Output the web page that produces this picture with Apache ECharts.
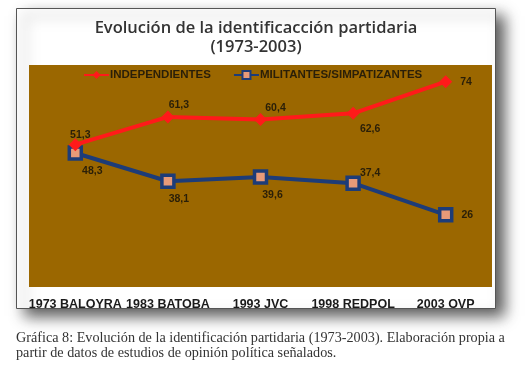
<!DOCTYPE html>
<html>
<head>
<meta charset="utf-8">
<script src="https://cdn.jsdelivr.net/npm/echarts@6/dist/echarts.min.js"></script>
<style>
  html, body { margin: 0; padding: 0; background: #fff; }
  #chart { width: 525px; height: 368px; }
</style>
</head>
<body>
<div id="chart"></div>
<script>
// categories (x axis)
const categories = ['1973 BALOYRA', '1983 BATOBA', '1993 JVC', '1998 REDPOL', '2003 OVP']

// series values (%)
const independientes = [51.3, 61.3, 60.4, 62.6, 74]
const militantes = [48.3, 38.1, 39.6, 37.4, 26]

const seriesNames = ['INDEPENDIENTES', 'MILITANTES/SIMPATIZANTES']

const titleLines = ['Evolución de la identificacción partidaria', '(1973-2003)']
const captionLines = [
    'Gráfica 8: Evolución de la identificación partidaria (1973-2003). Elaboración propia a',
    'partir de datos de estudios de opinión política señalados.'
]

// label placement for each point, kept apart from the values
const indepLabels = [
    { position: 'top', offset: [5, 7] },
    { position: 'top', offset: [11, 5] },
    { position: 'top', offset: [15, 6] },
    { position: 'bottom', offset: [17, -1] },
    { position: 'right', offset: [3, 0] }
]
const militLabels = [
    { position: 'bottom', offset: [17, 0] },
    { position: 'bottom', offset: [11, 0] },
    { position: 'bottom', offset: [12, 0] },
    { position: 'top', offset: [17, 8] },
    { position: 'right', offset: [3, 0] }
]

const PLOT_BG = '#9b6700'
const TEXT_DARK = '#2a1f08'
const RED = '#ff1a1a'
const BLUE = '#1d3c78'
const SANS = 'Arial, "Liberation Sans", sans-serif'
const TITLE_FONT = '600 16.5px "Open Sans", Lato, sans-serif'
const CAPTION_FONT = '14.2px "Liberation Serif", "DejaVu Serif", serif'

const chart = echarts.init(document.getElementById('chart'), null, { renderer: 'canvas' })

const fmt = p => String(p.value).replace('.', ',')

const labelStyle = {
    show: true,
    color: TEXT_DARK,
    fontFamily: SANS,
    fontWeight: 'bold',
    fontSize: 10.5,
    formatter: fmt
}

chart.setOption({
    backgroundColor: '#ffffff',
    animation: false,
    legend: {
        data: seriesNames,
        left: 83,
        top: 69,
        padding: 0,
        itemWidth: 25,
        itemHeight: 10,
        itemGap: 22,
        textStyle: {
            fontFamily: SANS,
            fontWeight: 'bold',
            fontSize: 11.5,
            color: TEXT_DARK,
            padding: [0, 0, 0, -4]
        }
    },
    grid: {
        left: 29,
        right: 33,
        top: 65,
        bottom: 81,
        show: true,
        backgroundColor: PLOT_BG,
        borderWidth: 0
    },
    xAxis: {
        type: 'category',
        data: categories,
        boundaryGap: true,
        axisLine: { show: false },
        axisTick: { show: false },
        axisLabel: {
            interval: 0,
            margin: 11,
            color: '#1a1a1a',
            fontFamily: SANS,
            fontWeight: 'bold',
            fontSize: 12.5
        }
    },
    yAxis: {
        type: 'value',
        min: 0,
        max: 80,
        show: false,
        splitLine: { show: false }
    },
    graphic: [
        {
            type: 'rect',
            z: -10,
            shape: { x: 16.5, y: 8.5, width: 479, height: 300 },
            style: {
                fill: '#ffffff',
                stroke: '#555555',
                lineWidth: 1,
                shadowBlur: 14,
                shadowOffsetX: 8,
                shadowOffsetY: 7,
                shadowColor: 'rgba(0, 0, 0, 0.65)'
            }
        },
        {
            type: 'text',
            x: 256,
            y: 28,
            style: {
                text: titleLines[0],
                fill: '#333333',
                font: TITLE_FONT,
                textAlign: 'center',
                textVerticalAlign: 'middle'
            }
        },
        {
            type: 'text',
            x: 256,
            y: 47,
            style: {
                text: titleLines[1],
                fill: '#333333',
                font: TITLE_FONT,
                textAlign: 'center',
                textVerticalAlign: 'middle'
            }
        },
        {
            type: 'text',
            left: 16,
            top: 331,
            style: {
                text: captionLines[0],
                fill: '#333333',
                font: CAPTION_FONT
            }
        },
        {
            type: 'text',
            left: 16,
            top: 346,
            style: {
                text: captionLines[1],
                fill: '#333333',
                font: CAPTION_FONT
            }
        }
    ],
    series: [
        {
            name: seriesNames[0],
            type: 'line',
            data: independientes.map((v, i) => ({ value: v, label: indepLabels[i] })),
            symbol: 'diamond',
            symbolSize: 13,
            lineStyle: { color: RED, width: 4 },
            itemStyle: { color: RED },
            label: labelStyle,
            z: 3
        },
        {
            name: seriesNames[1],
            type: 'line',
            data: militantes.map((v, i) => ({ value: v, label: militLabels[i] })),
            symbol: 'rect',
            symbolSize: 12,
            lineStyle: { color: BLUE, width: 4 },
            itemStyle: { color: '#e89a78', borderColor: BLUE, borderWidth: 3.5 },
            label: labelStyle,
            z: 2
        }
    ]
})
</script>
</body>
</html>
